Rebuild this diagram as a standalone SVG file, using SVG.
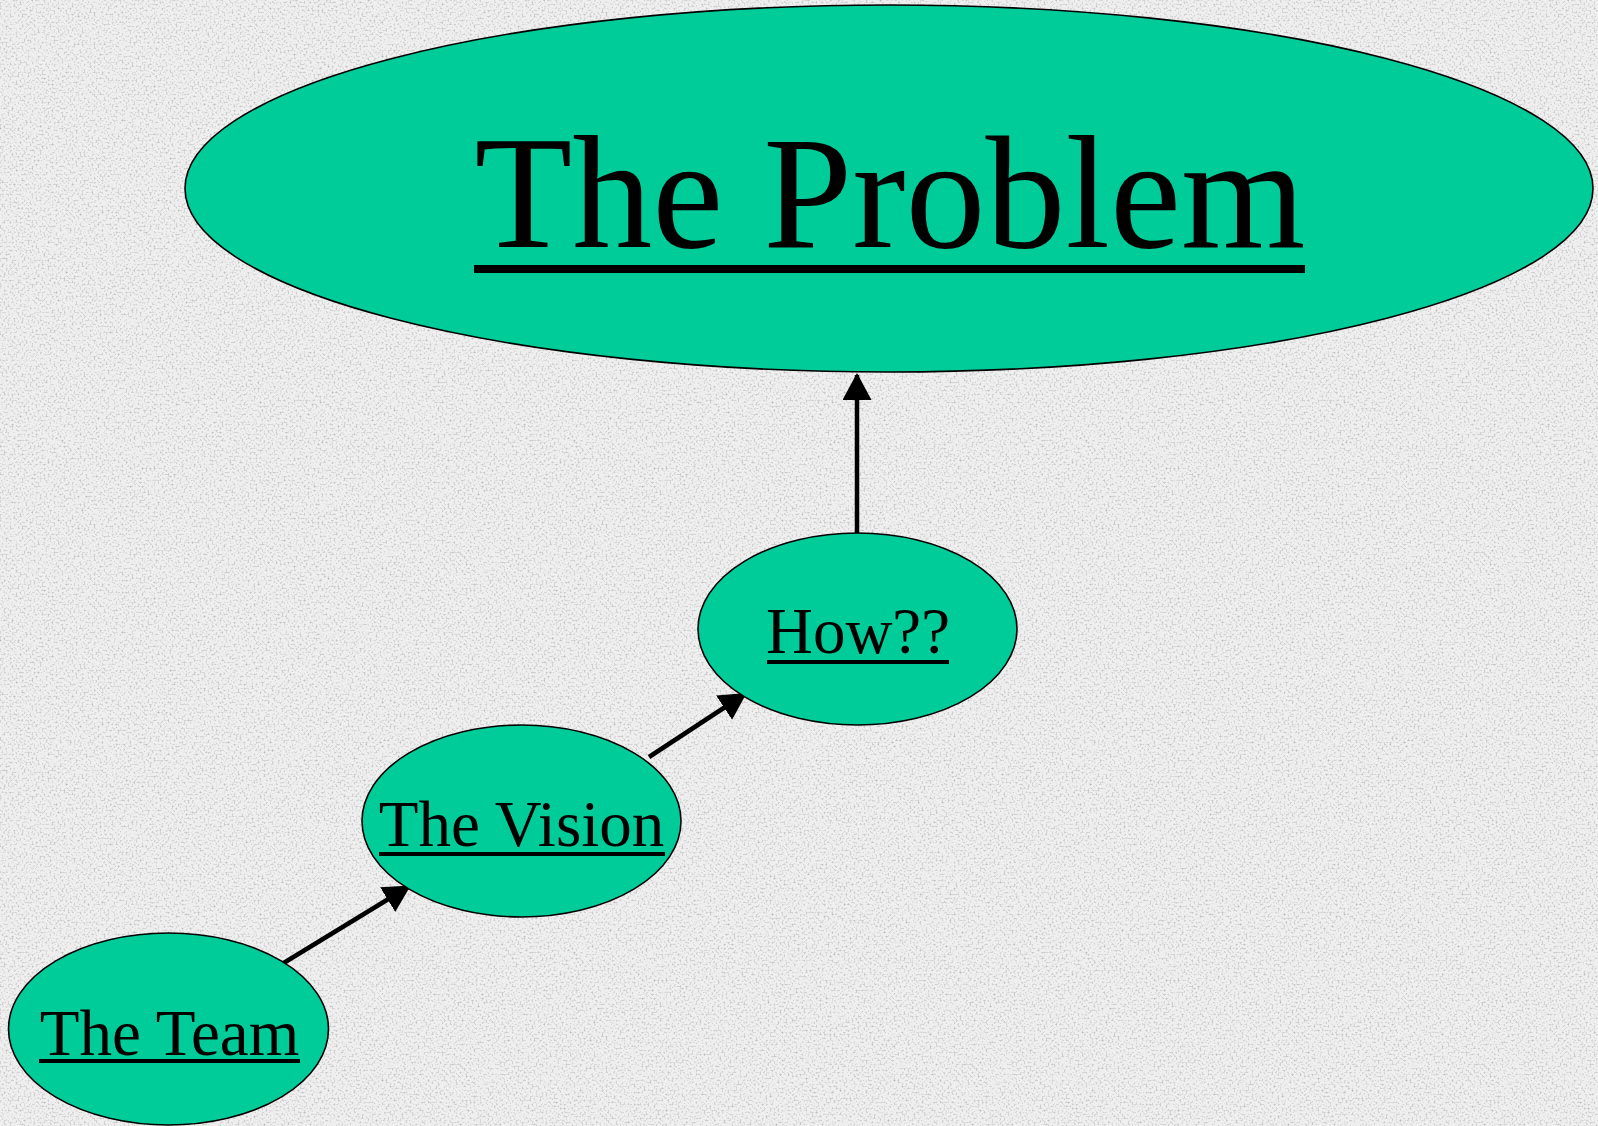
<svg xmlns="http://www.w3.org/2000/svg" width="1598" height="1126" viewBox="0 0 1598 1126">
<defs>
<style>
.node{fill:#00cc99;stroke:#000;stroke-width:1.6}
.lbl{font-family:"Liberation Serif","Times New Roman",serif;fill:#000;text-anchor:middle}
.sm{font-size:65px}
.ul{fill:#000}
.edge{stroke:#000;stroke-width:4.5;fill:none;marker-end:url(#arrow)}
</style>
<marker id="arrow" viewBox="0 0 27 29" refX="25" refY="14.5" markerWidth="27" markerHeight="29" markerUnits="userSpaceOnUse" orient="auto">
<path d="M0,0 L27,14.5 L0,29 Z" fill="#000"/>
</marker>
<filter id="grain" x="0" y="0" width="100%" height="100%" color-interpolation-filters="sRGB">
<feTurbulence type="fractalNoise" baseFrequency="0.5" numOctaves="3" seed="7" result="n"/>
<feColorMatrix in="n" type="matrix" values="0 0 0 0 0.72  0 0 0 0 0.72  0 0 0 0 0.72  2.6 0 0 0 -1.25"/>
</filter>
</defs>
<rect width="1598" height="1126" fill="#f0f0f0"/>
<rect width="1598" height="1126" fill="#fff" filter="url(#grain)"/>
<g id="connectors">
<line class="edge" x1="282" y1="964" x2="409" y2="886.5"/>
<line class="edge" x1="649" y1="757" x2="745" y2="694"/>
<line class="edge" x1="857" y1="533" x2="857" y2="375"/>
</g>
<g id="node-problem">
<ellipse class="node" cx="889" cy="188.5" rx="704" ry="183.5"/>
<text class="lbl" x="890" y="247" font-size="160">The Problem</text>
<rect class="ul" x="474" y="265" width="831" height="8"/>
</g>
<g id="node-how">
<ellipse class="node" cx="857.5" cy="629" rx="159.5" ry="96"/>
<text class="lbl sm" x="858" y="653">How??</text>
<rect class="ul" x="767" y="660" width="182" height="4"/>
</g>
<g id="node-vision">
<ellipse class="node" cx="521.5" cy="821" rx="159.5" ry="96"/>
<text class="lbl sm" x="521.5" y="846">The Vision</text>
<rect class="ul" x="379" y="852" width="286" height="4"/>
</g>
<g id="node-team">
<ellipse class="node" cx="168.5" cy="1029" rx="160" ry="96"/>
<text class="lbl sm" x="169.5" y="1055">The Team</text>
<rect class="ul" x="39" y="1059" width="261" height="4"/>
</g>
</svg>
